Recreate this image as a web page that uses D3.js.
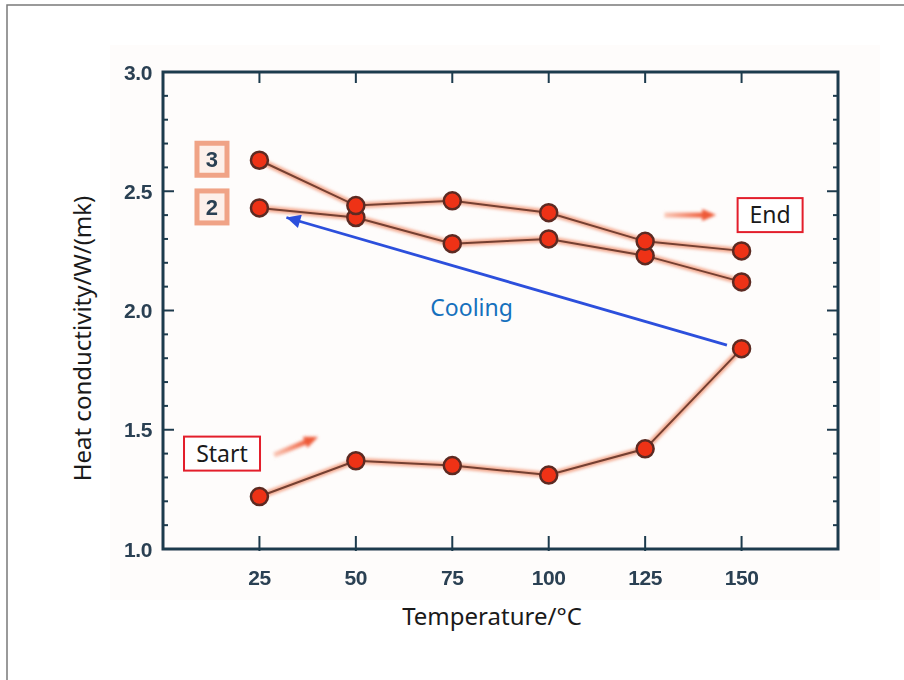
<!DOCTYPE html>
<html>
<head>
<meta charset="utf-8">
<script src="https://cdn.jsdelivr.net/npm/d3@7"></script>
<style>
  body { margin: 0; background: #fff; }
  svg { display: block; }
</style>
</head>
<body>
<div id="chart"></div>
<script>
// data
const temps = [25, 50, 75, 100, 125, 150];
const heating = [1.22, 1.37, 1.35, 1.31, 1.42, 1.84];
const cooling2 = [2.43, 2.39, 2.28, 2.30, 2.23, 2.12];
const cooling3 = [2.63, 2.44, 2.46, 2.41, 2.29, 2.25];
const xTicks = [25, 50, 75, 100, 125, 150];
const yTicks = [1.0, 1.5, 2.0, 2.5, 3.0];
const yMinor = d3.range(10, 31).map(v => v / 10);

const WIDTH = 904, HEIGHT = 680;
const PLOT = { left: 163, right: 838, top: 72, bottom: 549 };

const svg = d3.select("#chart").append("svg")
    .attr("width", WIDTH)
    .attr("height", HEIGHT);

const defs = svg.append("defs");
defs.append("filter").attr("id", "soft")
    .append("feGaussianBlur").attr("stdDeviation", 0.6);
defs.append("filter").attr("id", "glow")
    .append("feGaussianBlur").attr("stdDeviation", 1.6);
defs.append("marker")
    .attr("id", "blueHead")
    .attr("viewBox", "0 0 10 10")
    .attr("refX", 10).attr("refY", 5)
    .attr("markerWidth", 8).attr("markerHeight", 5)
    .attr("markerUnits", "strokeWidth")
    .attr("orient", "auto")
    .append("path").attr("d", "M0,0 L10,5 L0,10 Z").attr("fill", "#2c4fdc");
const grad = defs.append("linearGradient").attr("id", "fade");
grad.append("stop").attr("offset", "0%").attr("stop-color", "#f9c6b4");
grad.append("stop").attr("offset", "100%").attr("stop-color", "#ee5a38");

// outer frame
svg.append("rect")
    .attr("x", 7).attr("y", 5)
    .attr("width", 1000).attr("height", 1000)
    .attr("fill", "none")
    .attr("stroke", "#7a7a7a")
    .attr("stroke-width", 1.5);

// faint paper tint behind the scanned chart
svg.append("rect")
    .attr("x", 110).attr("y", 45)
    .attr("width", 770).attr("height", 555)
    .attr("fill", "#fefcfb");

const X_SCALE = d3.scaleLinear().domain([0, 175]).range([PLOT.left, PLOT.right]);
const Y_SCALE = d3.scaleLinear().domain([1.0, 3.0]).range([PLOT.bottom, PLOT.top]);

const chart = svg.append("g").attr("filter", "url(#soft)");
const AXIS_COLOR = "#1f3b4d";
const TICK_FONT = "Liberation Sans, Arial, sans-serif";

// box and ticks
chart.append("rect")
    .attr("x", PLOT.left).attr("y", PLOT.top)
    .attr("width", PLOT.right - PLOT.left)
    .attr("height", PLOT.bottom - PLOT.top)
    .attr("fill", "none")
    .attr("stroke", AXIS_COLOR)
    .attr("stroke-width", 3);

const ticks = chart.append("g")
    .attr("stroke", AXIS_COLOR)
    .attr("stroke-width", 2);
xTicks.forEach(t => {
    ticks.append("line")
        .attr("x1", X_SCALE(t)).attr("x2", X_SCALE(t))
        .attr("y1", PLOT.bottom + 2).attr("y2", PLOT.bottom - 13);
    ticks.append("line")
        .attr("x1", X_SCALE(t)).attr("x2", X_SCALE(t))
        .attr("y1", PLOT.top).attr("y2", PLOT.top + 11);
});
yMinor.forEach(v => {
    const major = Math.abs(v * 2 - Math.round(v * 2)) < 1e-6;
    const len = major ? 11 : 5;
    ticks.append("line")
        .attr("x1", PLOT.left).attr("x2", PLOT.left + len)
        .attr("y1", Y_SCALE(v)).attr("y2", Y_SCALE(v));
    ticks.append("line")
        .attr("x1", PLOT.right).attr("x2", PLOT.right - len)
        .attr("y1", Y_SCALE(v)).attr("y2", Y_SCALE(v));
});

// tick labels
chart.selectAll(".xlab")
    .data(xTicks)
    .enter()
    .append("text")
    .attr("x", d => X_SCALE(d))
    .attr("y", PLOT.bottom + 36)
    .attr("text-anchor", "middle")
    .attr("font-family", TICK_FONT)
    .attr("font-weight", "bold")
    .attr("font-size", 21)
    .attr("letter-spacing", -0.4)
    .attr("fill", "#2b4052")
    .text(d => d);

chart.selectAll(".ylab")
    .data(yTicks)
    .enter()
    .append("text")
    .attr("x", PLOT.left - 11)
    .attr("y", d => Y_SCALE(d) + 7.5)
    .attr("text-anchor", "end")
    .attr("font-family", TICK_FONT)
    .attr("font-weight", "bold")
    .attr("font-size", 21)
    .attr("letter-spacing", -0.4)
    .attr("fill", "#2b4052")
    .text(d => d.toFixed(1));

// series lines and markers
const line = d3.line()
    .x((d, i) => X_SCALE(temps[i]))
    .y(d => Y_SCALE(d));

const allSeries = [heating, cooling2, cooling3];

chart.selectAll(".halo")
    .data(allSeries)
    .enter()
    .append("path")
    .attr("d", line)
    .attr("fill", "none")
    .attr("stroke", "#f3a88e")
    .attr("stroke-width", 6)
    .attr("filter", "url(#glow)");

chart.selectAll(".series")
    .data(allSeries)
    .enter()
    .append("path")
    .attr("d", line)
    .attr("fill", "none")
    .attr("stroke", "#744032")
    .attr("stroke-width", 2);

allSeries.forEach(series => {
    chart.selectAll(null)
        .data(series)
        .enter()
        .append("circle")
        .attr("cx", (d, i) => X_SCALE(temps[i]))
        .attr("cy", d => Y_SCALE(d))
        .attr("r", 8.5)
        .attr("fill", "#ee3219")
        .attr("stroke", "#5b2a22")
        .attr("stroke-width", 2.5);
});

// series number boxes "3" and "2"
const seriesLabels = [
    { text: "3", value: cooling3[0] },
    { text: "2", value: cooling2[0] }
];
seriesLabels.forEach(s => {
    const cx = X_SCALE(12.7), cy = Y_SCALE(s.value) - 1;
    chart.append("rect")
        .attr("x", cx - 15).attr("y", cy - 16)
        .attr("width", 30).attr("height", 32)
        .attr("fill", "#fdf0ea")
        .attr("stroke", "#f0a386")
        .attr("stroke-width", 5);
    chart.append("text")
        .attr("x", cx).attr("y", cy + 8)
        .attr("text-anchor", "middle")
        .attr("font-family", TICK_FONT)
        .attr("font-weight", "bold")
        .attr("font-size", 22)
        .attr("fill", "#2b4052")
        .text(s.text);
});

// small orange direction arrows
const orangeArrows = [
    { from: [28.8, 1.394], to: [40.2, 1.47] },
    { from: [130, 2.40], to: [143.4, 2.40] }
];
orangeArrows.forEach(a => {
    const x1 = X_SCALE(a.from[0]), y1 = Y_SCALE(a.from[1]);
    const x2 = X_SCALE(a.to[0]), y2 = Y_SCALE(a.to[1]);
    const ang = Math.atan2(y2 - y1, x2 - x1) * 180 / Math.PI;
    const len = Math.hypot(x2 - x1, y2 - y1);
    const g = chart.append("g")
        .attr("transform", "translate(" + x1 + "," + y1 + ") rotate(" + ang + ")")
        .attr("filter", "url(#glow)");
    g.append("rect")
        .attr("x", 0).attr("y", -2.5)
        .attr("width", len - 12).attr("height", 5)
        .attr("fill", "url(#fade)");
    g.append("path")
        .attr("d", "M" + (len - 14) + ",-6 L" + len + ",0 L" + (len - 14) + ",6 Z")
        .attr("fill", "#ee5a38");
});

// cooling arrow (drawn crisp)
const coolFrom = [146.2, 1.855], coolTo = [32.0, 2.39];
svg.append("line")
    .attr("x1", X_SCALE(coolFrom[0])).attr("y1", Y_SCALE(coolFrom[1]))
    .attr("x2", X_SCALE(coolTo[0])).attr("y2", Y_SCALE(coolTo[1]))
    .attr("stroke", "#2c4fdc")
    .attr("stroke-width", 2.8)
    .attr("marker-end", "url(#blueHead)");

const LABEL_FONT = "Frutiger, 'Noto Sans', 'Open Sans', sans-serif";

svg.append("text")
    .attr("x", X_SCALE(80)).attr("y", Y_SCALE(2.01) + 8)
    .attr("text-anchor", "middle")
    .attr("font-family", LABEL_FONT)
    .attr("font-size", 23)
    .attr("fill", "#1570bd")
    .text("Cooling");

// Start / End boxes
const boxes = [
    { text: "Start", x: 15.3, y: 1.40, w: 76, h: 34 },
    { text: "End", x: 157.4, y: 2.40, w: 65, h: 34 }
];
boxes.forEach(b => {
    const cx = X_SCALE(b.x), cy = Y_SCALE(b.y);
    svg.append("rect")
        .attr("x", cx - b.w / 2).attr("y", cy - b.h / 2)
        .attr("width", b.w).attr("height", b.h)
        .attr("fill", "#fff")
        .attr("stroke", "#e31e2b")
        .attr("stroke-width", 2);
    svg.append("text")
        .attr("x", cx).attr("y", cy + 8)
        .attr("text-anchor", "middle")
        .attr("font-family", LABEL_FONT)
        .attr("font-size", 23)
        .attr("fill", "#1a1a1a")
        .text(b.text);
});

// axis titles
svg.append("text")
    .attr("transform", "translate(91," + ((PLOT.top + PLOT.bottom) / 2 + 28) + ") rotate(-90)")
    .attr("text-anchor", "middle")
    .attr("font-family", LABEL_FONT)
    .attr("font-size", 24)
    .attr("fill", "#1a1a1a")
    .text("Heat conductivity/W/(mk)");

svg.append("text")
    .attr("x", 492).attr("y", 625)
    .attr("text-anchor", "middle")
    .attr("font-family", LABEL_FONT)
    .attr("font-size", 24)
    .attr("fill", "#1a1a1a")
    .text("Temperature/°C");
</script>
</body>
</html>
